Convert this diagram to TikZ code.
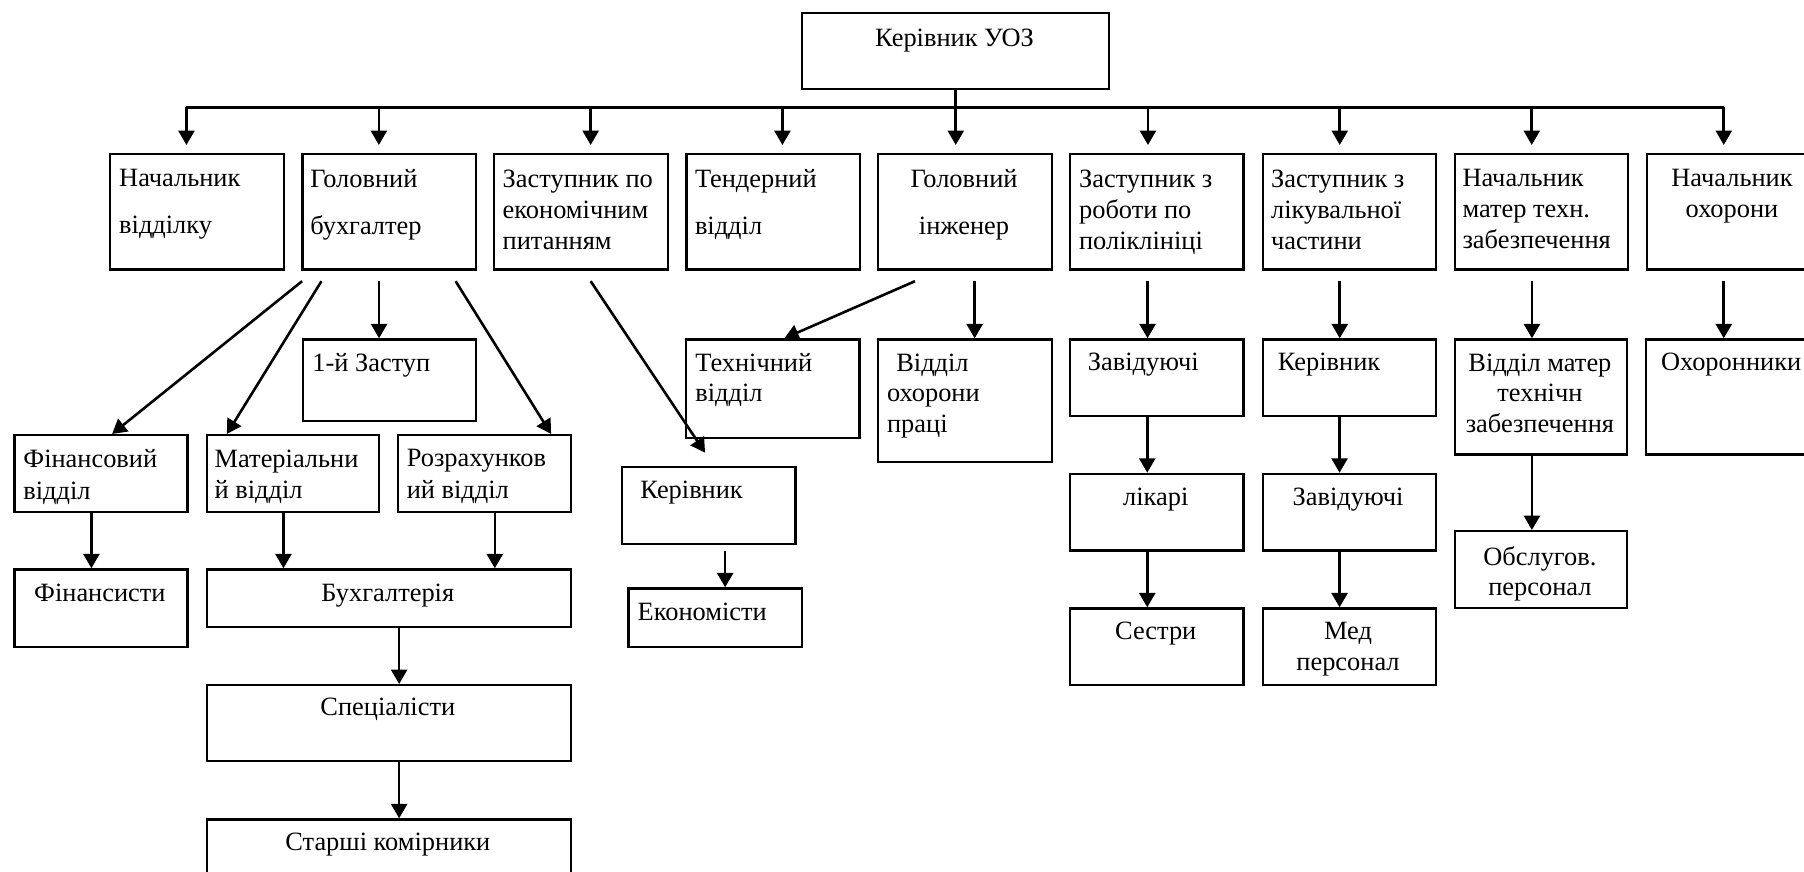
\documentclass[tikz,border=0pt]{standalone}
\usepackage{fontspec}
\setmainfont{Liberation Serif}
\usetikzlibrary{arrows.meta}
\begin{document}
\begin{tikzpicture}[x=0.5pt,y=-0.5pt,
  box/.style={draw, line width=1.1pt, inner sep=0pt, anchor=north west},
  bsz/.style 2 args={minimum width=#1*0.5pt, minimum height=#2*0.5pt},
  txt/.style={inner sep=0pt, align=left, font=\fontsize{13.2}{15.5}\selectfont},
  wide/.style={font=\fontsize{13.2}{23.35}\selectfont},
  ln/.style={line width=1.3pt},
  arr/.style={line width=1.3pt, -{Triangle[length=7.2pt,width=8pt]}}]
\useasboundingbox (0,0) rectangle (1804,872);
% ---------- boxes ----------
\node[box,bsz={307}{76}] (T) at (801,12) {};
\node[box,bsz={173.5}{115.6}] (b1) at (109,152.7) {};
\node[box,bsz={173.5}{115.6}] (b2) at (301.4,152.7) {};
\node[box,bsz={173.5}{115.6}] (b3) at (493,152.7) {};
\node[box,bsz={173.5}{115.6}] (b4) at (685.4,152.7) {};
\node[box,bsz={173.5}{115.6}] (b5) at (877.2,152.7) {};
\node[box,bsz={173.5}{115.6}] (b6) at (1068.9,152.7) {};
\node[box,bsz={173.5}{115.6}] (b7) at (1261.5,152.7) {};
\node[box,bsz={173.5}{115.6}] (b8) at (1453.5,152.7) {};
\node[box,bsz={173.5}{115.6}] (b9) at (1645.5,152.7) {};
\node[box,bsz={172.9}{81.7}] (zast) at (301.6,338.3) {};
\node[box,bsz={173}{76.7}] (fin) at (13.4,434) {};
\node[box,bsz={172.5}{76.7}] (mat) at (205.5,434) {};
\node[box,bsz={173}{76.7}] (rozr) at (397.2,434) {};
\node[box,bsz={173}{77.4}] (fins) at (13.4,568.3) {};
\node[box,bsz={364.7}{57.7}] (buh) at (205.5,568.3) {};
\node[box,bsz={364.7}{76}] (spec) at (205.5,684) {};
\node[box,bsz={364.7}{80}] (star) at (205.5,818.3) {};
\node[box,bsz={173.3}{98.4}] (tech) at (685,338.3) {};
\node[box,bsz={173.7}{122.7}] (op) at (877,338.3) {};
\node[box,bsz={173.3}{76.7}] (kerE) at (621,466) {};
\node[box,bsz={173.7}{58.4}] (econ) at (627.3,587.3) {};
\node[box,bsz={173.1}{76.7}] (zav1) at (1069.2,338.3) {};
\node[box,bsz={173.1}{76.6}] (lik) at (1069.2,472.7) {};
\node[box,bsz={173.1}{76.7}] (ses) at (1069.2,607.3) {};
\node[box,bsz={173.1}{76.7}] (kerM) at (1261.5,338.3) {};
\node[box,bsz={173.1}{76.6}] (zav2) at (1261.5,472.7) {};
\node[box,bsz={173.1}{76.7}] (med) at (1261.5,607.3) {};
\node[box,bsz={172.2}{115}] (vm) at (1453.8,338.3) {};
\node[box,bsz={172.2}{76.7}] (obs) at (1453.8,530) {};
\node[box,bsz={173.5}{115}] (oxr) at (1645.2,338.3) {};
% ---------- texts ----------
\node[txt,anchor=base] (tT) at (954.5,46.7) {Керівник УОЗ};
\node[txt,wide,anchor=north west] (t1) at (118.8,169.2) {Начальник\\відділку};
\node[txt,wide,anchor=north west] (t2) at (310,169.2) {Головний\\бухгалтер};
\node[txt,anchor=north west] (t3) at (502.3,169.2) {Заступник по\\економічним\\питанням};
\node[txt,wide,anchor=north west] (t4) at (694.6,169.2) {Тендерний\\відділ};
\node[txt,wide,align=center,anchor=north] (t5) at (964,169.2) {Головний\\інженер};
\node[txt,anchor=north west] (t6) at (1078.7,169.2) {Заступник з\\роботи по\\поліклініці};
\node[txt,anchor=north west] (t7) at (1270.7,169.2) {Заступник з\\лікувальної\\частини};
\node[txt,anchor=north west] (t8) at (1462.1,169.2) {Начальник\\матер техн.\\забезпечення};
\node[txt,align=center,anchor=north] (t9) at (1732,169.2) {Начальник\\охорони};
\node[txt,anchor=base west] (tzast) at (312,371.7) {1-й Заступ};
\node[txt,font=\fontsize{13.2}{15.8}\selectfont,anchor=north west] (tfin) at (23,449.2) {Фінансовий\\відділ};
\node[txt,font=\fontsize{13.2}{15.8}\selectfont,anchor=north west] (tmat) at (214.3,449.2) {Матеріальни\\й відділ};
\node[txt,font=\fontsize{13.2}{15.8}\selectfont,anchor=north west] (trozr) at (406.4,449.2) {Розрахунков\\ий відділ};
\node[txt,anchor=base] (tfins) at (99.9,601.7) {Фінансисти};
\node[txt,anchor=base] (tbuh) at (387.85,601.7) {Бухгалтерія};
\node[txt,anchor=base] (tspec) at (387.85,715) {Спеціалісти};
\node[txt,anchor=base] (tstar) at (387.85,850.7) {Старші комірники};
\node[txt,font=\fontsize{13.2}{14.8}\selectfont,anchor=north west] (ttech) at (695,353.2) {Технічний\\відділ};
\node[txt,font=\fontsize{13.2}{15.25}\selectfont,anchor=north west] (top) at (886.7,353.2) {\hspace*{4.6pt}Відділ\\охорони\\праці};
\node[txt,anchor=base west] (tkerE) at (640,498.3) {Керівник};
\node[txt,anchor=base west] (tecon) at (637.3,620.7) {Економісти};
\node[txt,anchor=base west] (tzav1) at (1087.5,370.7) {Завідуючі};
\node[txt,anchor=base] (tlik) at (1155.75,505.7) {лікарі};
\node[txt,anchor=base] (tses) at (1155.75,639.3) {Сестри};
\node[txt,anchor=base west] (tkerM) at (1277.4,370.7) {Керівник};
\node[txt,anchor=base] (tzav2) at (1348,505.7) {Завідуючі};
\node[txt,font=\fontsize{13.2}{15.35}\selectfont,align=center,anchor=north] (tmed) at (1348,621.8) {Мед\\персонал};
\node[txt,font=\fontsize{13.2}{15.25}\selectfont,align=center,anchor=north] (tvm) at (1539.9,353.2) {Відділ матер\\технічн\\забезпечення};
\node[txt,font=\fontsize{13.2}{15}\selectfont,align=center,anchor=north] (tobs) at (1539.9,545.8) {Обслугов.\\персонал};
\node[txt,anchor=base west] (toxr) at (1660.6,370.7) {Охоронники};
% ---------- connectors ----------
\coordinate (bus) at (954.8,107.3);
\draw[ln] (T.south) -- (T.south |- bus);
\draw[ln] ([xshift=-5.2pt]b1.north |- bus) -- ([xshift=-4.8pt]b9.north |- bus);
\foreach \b/\s in {b1/-5.2pt,b2/-5.2pt,b3/4.9pt,b4/4.6pt,b5/-4.65pt,b6/-4.4pt,b7/-4.8pt,b8/-4.8pt,b9/-4.8pt}
  \draw[arr,shorten >=3.85pt] ([xshift=\s]\b.north |- bus) -- ([xshift=\s]\b.north);
% from Головний бухгалтер
\draw[arr] ([xshift=-43.6pt,yshift=-5.35pt]b2.south) -- ([xshift=5.55pt]fin.north);
\draw[arr] ([xshift=-33.9pt,yshift=-5.35pt]b2.south) -- ([xshift=-33pt]mat.north);
\draw[arr] ([xshift=-5.1pt,yshift=-5.35pt]b2.south) -- ([xshift=-5.1pt]b2.south |- zast.north);
\draw[arr] ([xshift=33.2pt,yshift=-5.35pt]b2.south) -- ([xshift=33.15pt]rozr.north);
% from Заступник по економічним питанням
\draw[arr,shorten >=8pt] ([xshift=4.9pt,yshift=-5.35pt]b3.south) -- ([xshift=2.6pt]kerE.north);
% from Головний інженер
\draw[arr] ([xshift=-25.05pt,yshift=-5.35pt]b5.south) -- ([xshift=5.8pt]tech.north);
\draw[arr] ([xshift=4.8pt,yshift=-5.35pt]b5.south) -- ([xshift=4.8pt]b5.south |- op.north);
% columns 6-9
\draw[arr] ([xshift=-4.6pt,yshift=-5.35pt]b6.south) -- ([xshift=-4.6pt]b6.south |- zav1.north);
\draw[arr] ([xshift=-4.8pt,yshift=-5.35pt]b7.south) -- ([xshift=-4.8pt]b7.south |- kerM.north);
\draw[arr] ([xshift=-4.7pt,yshift=-5.35pt]b8.south) -- ([xshift=-4.7pt]b8.south |- vm.north);
\draw[arr] ([xshift=-4.8pt,yshift=-5.35pt]b9.south) -- ([xshift=-4.8pt]b9.south |- oxr.north);
% lower levels
\draw[arr] ([xshift=-4.8pt]fin.south) -- ([xshift=-4.8pt]fin.south |- fins.north);
\draw[arr] ([xshift=-4.7pt]mat.south) -- ([xshift=-4.7pt]mat.south |- buh.north);
\draw[arr] ([xshift=5pt]rozr.south) -- ([xshift=5pt]rozr.south |- buh.north);
\draw[arr] ([xshift=5.1pt]buh.south) -- ([xshift=5.1pt]buh.south |- spec.north);
\draw[arr] ([xshift=5.1pt]spec.south) -- ([xshift=5.1pt]spec.south |- star.north);
\draw[arr] ([xshift=8.2pt,yshift=-2.8pt]kerE.south) -- ([xshift=8.2pt]kerE.south |- econ.north);
\draw[arr] ([xshift=-4.8pt]zav1.south) -- ([xshift=-4.8pt]zav1.south |- lik.north);
\draw[arr] ([xshift=-4.8pt]lik.south) -- ([xshift=-4.8pt]lik.south |- ses.north);
\draw[arr] ([xshift=-4.8pt]kerM.south) -- ([xshift=-4.8pt]kerM.south |- zav2.north);
\draw[arr] ([xshift=-4.8pt]zav2.south) -- ([xshift=-4.8pt]zav2.south |- med.north);
\draw[arr] ([xshift=-4.55pt]vm.south) -- ([xshift=-4.55pt]vm.south |- obs.north);
\end{tikzpicture}
\end{document}
